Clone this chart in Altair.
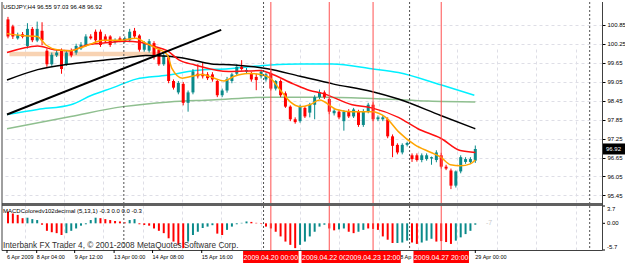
import altair as alt
import pandas as pd

# ---------------- data ----------------
TITLE = "USDJPY,H4 96.55 97.03 96.48 96.92"
MACD_LABEL = "MACDColoredv102decimal (5,13,1) -0.3 0.0 0.0 -0.3"
COPYRIGHT = "Interbank FX Trader 4, \u00a9 2001-2008 MetaQuotes Software Corp."
MACD_TAIL = "-7"

opens = [101.02, 100.80, 100.42, 100.55, 100.18, 100.72, 100.35, 100.66, 100.03, 99.60,
         99.88, 100.03, 99.60, 100.03, 99.97, 100.10, 100.21, 100.48, 100.63, 100.63,
         100.48, 100.48, 100.30, 100.42, 100.33, 100.36, 100.66, 100.51, 100.06, 100.03,
         100.27, 100.06, 99.60, 99.82, 99.07, 98.71, 98.98, 98.38, 98.71, 99.30,
         99.30, 99.28, 99.28, 99.07, 98.62, 98.77, 99.07, 99.30, 99.52, 99.37,
         99.30, 99.20, 99.22, 99.12, 99.31, 98.83, 99.07, 98.68, 98.26, 97.86,
         97.80, 98.22, 98.07, 98.32, 98.56, 98.71, 98.50, 98.05, 98.10, 97.80,
         98.10, 97.95, 98.10, 97.68, 98.10, 98.32, 97.86, 97.86, 97.86, 97.32,
         97.05, 96.81, 97.05, 96.72, 96.72, 96.57, 96.60, 96.62, 96.57, 96.72,
         96.36, 96.24, 95.76, 96.21, 96.51, 96.51, 96.55]
highs = [101.10, 100.85, 100.60, 100.62, 100.90, 100.78, 100.95, 100.93, 100.10, 99.97,
         100.05, 100.10, 100.05, 100.10, 100.25, 100.30, 100.55, 100.55, 100.70, 100.70,
         100.55, 100.52, 100.42, 100.48, 100.48, 100.72, 100.75, 100.55, 100.33, 100.40,
         100.33, 100.10, 99.95, 99.90, 99.12, 99.07, 99.04, 98.77, 99.45, 99.60,
         99.67, 99.35, 99.35, 99.12, 98.83, 99.20, 99.33, 99.60, 99.73, 99.48,
         99.36, 99.30, 99.42, 99.33, 99.40, 99.10, 99.12, 98.74, 98.30, 97.92,
         98.32, 98.28, 98.38, 98.62, 98.80, 98.77, 98.56, 98.18, 98.16, 98.15,
         98.18, 98.22, 98.16, 98.18, 98.38, 98.40, 97.98, 97.98, 97.92, 97.38,
         97.10, 97.10, 97.15, 96.78, 96.78, 96.78, 96.78, 96.68, 96.88, 96.80,
         96.42, 96.30, 96.24, 96.72, 96.66, 96.66, 97.03]
lows = [100.42, 100.40, 100.38, 100.42, 100.10, 100.30, 100.30, 100.20, 99.52, 99.55,
        99.83, 99.30, 99.55, 99.82, 99.90, 100.05, 100.15, 100.38, 100.30, 100.15,
        100.28, 100.15, 100.25, 100.30, 100.28, 100.30, 100.42, 100.00, 100.00, 99.97,
        99.75, 99.55, 99.55, 99.00, 98.80, 98.65, 98.30, 98.10, 98.65, 99.15,
        99.15, 99.10, 99.05, 98.56, 98.56, 98.70, 99.00, 99.25, 99.40, 99.30,
        99.05, 98.78, 99.15, 99.05, 98.77, 98.77, 98.56, 98.22, 97.80, 97.72,
        97.75, 97.90, 97.92, 97.86, 98.50, 98.50, 98.02, 97.98, 97.86, 97.50,
        97.90, 97.90, 97.62, 97.62, 98.05, 97.80, 97.80, 97.80, 97.26, 96.66,
        96.75, 96.75, 97.00, 96.51, 96.52, 96.50, 96.55, 96.42, 96.50, 96.30,
        96.25, 95.65, 95.70, 96.15, 96.45, 96.45, 96.48]
closes = [100.48, 100.48, 100.52, 100.47, 100.72, 100.36, 100.72, 100.36, 99.60, 99.90,
          99.97, 99.45, 99.97, 99.88, 100.18, 100.22, 100.48, 100.42, 100.36, 100.21,
          100.33, 100.21, 100.36, 100.36, 100.42, 100.63, 100.48, 100.06, 100.27, 100.33,
          99.82, 99.60, 99.88, 99.07, 98.86, 99.01, 98.38, 98.71, 99.37, 99.22,
          99.22, 99.16, 99.12, 98.62, 98.77, 99.13, 99.28, 99.52, 99.45, 99.42,
          99.12, 99.10, 99.37, 99.28, 98.83, 99.07, 98.62, 98.26, 97.86, 97.77,
          98.26, 97.95, 98.32, 98.56, 98.71, 98.56, 98.10, 98.13, 97.92, 98.10,
          97.95, 98.17, 97.68, 98.10, 98.32, 97.86, 97.92, 97.92, 97.32, 97.02,
          96.81, 97.05, 97.11, 96.60, 96.57, 96.72, 96.72, 96.66, 96.81, 96.36,
          96.30, 95.76, 96.21, 96.66, 96.60, 96.60, 96.92]

macd_hist = [2.5, 2.1, 1.8, 1.1, 1.2, 0.9, 0.7, -0.3, -1.6, -1.9,
             -2.1, -2.5, -2.1, -1.6, -1.1, -0.5, -0.2, 0.7, 1.2, 1.1,
             0.9, 0.7, 0.5, 0.4, 0.2, 0.7, 0.9, -0.2, -0.35, -0.5,
             -1.1, -1.6, -2.1, -3.2, -3.9, -4.6, -5.3, -3.9, -2.5, -1.8,
             -1.0, -0.7, -0.4, -2.2, -2.5, -1.4, -0.7, -0.2, 0.1, 0.4,
             0.3, 0.1, -0.1, -0.7, -1.1, -1.8, -2.8, -3.9, -4.6, -5.3,
             -4.6, -3.9, -2.8, -1.8, -0.7, -0.3, -1.1, -1.5, -1.3, -1.1,
             -1.8, -2.1, -1.8, -1.4, -1.1, -1.2, -1.4, -2.8, -3.5, -4.2,
             -4.2, -4.1, -3.7, -4.1, -4.4, -4.1, -3.7, -3.3, -3.9, -3.8,
             -4.0, -4.4, -3.7, -3.0, -2.3, -1.6, -0.3]
macd_dir = list("RRRRGGGRRRRRGGGGGGGRRRRRRGGRRRRRRRRRRGGGGGGRRGGGGGRRRRRRRRRRGGGGGGRRGGRRGGRRRRRRGGGRRGGGRRRRGGGGG")

# moving averages (bar index, price)
orange_x = [-0.2, 2.8, 6.0, 7.8, 10.1, 12.9, 14.9, 17.5, 19.5, 23.0, 26.3, 28.3, 30.3, 32.7, 33.7,
            35.8, 37.8, 39.8, 42.4, 44.4, 46.5, 49.3, 51.9, 53.9, 56.0, 58.0, 60.0, 62.0, 64.0,
            67.5, 70.7, 74.7, 77.6, 80.2, 83.6, 86.9, 88.9, 90.9, 92.9, 95.0, 96.0]
orange_y = [100.57, 100.51, 100.48, 100.21, 100.06, 100.03, 100.12, 100.27, 100.36, 100.36, 100.42,
            100.27, 100.12, 99.91, 99.46, 99.16, 99.22, 99.28, 99.16, 99.07, 99.22, 99.31, 99.28,
            99.16, 98.77, 98.41, 98.26, 98.32, 98.47, 98.17, 98.10, 98.10, 97.92, 97.47, 97.05,
            96.81, 96.66, 96.42, 96.39, 96.45, 96.57]
red_x = [-0.2, 6.1, 9.5, 12.9, 16.2, 19.6, 24.2, 27.1, 29.7, 32.7, 35.2, 38.4, 45.3, 51.9, 53.9,
         58.6, 62.0, 64.6, 70.7, 74.7, 80.2, 84.2, 88.9, 92.9, 96.0]
red_y = [99.97, 100.18, 100.06, 100.03, 100.21, 100.27, 100.33, 100.30, 100.18, 100.03, 99.73,
         99.58, 99.37, 99.40, 99.31, 98.98, 98.77, 98.68, 98.32, 98.22, 97.92, 97.56, 97.26,
         96.87, 96.81]
black_x = [-0.2, 6.1, 12.9, 19.6, 23.6, 28.3, 33.1, 37.2, 41.8, 46.5, 53.3, 60.0, 66.7, 74.7,
           80.2, 88.9, 96.0]
black_y = [99.10, 99.43, 99.61, 99.73, 99.79, 99.88, 99.85, 99.76, 99.61, 99.58, 99.46, 99.22,
           98.98, 98.74, 98.50, 97.98, 97.56]
cyan_x = [-0.2, 6.1, 12.9, 17.2, 21.6, 26.3, 32.7, 38.4, 45.3, 53.9, 60.0, 66.7, 74.7, 80.2,
          88.9, 95.8]
cyan_y = [98.01, 98.17, 98.32, 98.62, 98.86, 99.13, 99.25, 99.40, 99.46, 99.58, 99.61, 99.61,
          99.46, 99.34, 98.95, 98.62]
green_x = [-0.2, 12.9, 23.6, 33.1, 41.8, 53.9, 65.1, 77.6, 86.3, 96.0]
green_y = [97.56, 97.95, 98.26, 98.41, 98.47, 98.56, 98.56, 98.50, 98.44, 98.41]
trend_x = [-0.2, 43.8]
trend_y = [98.01, 100.69]
band_x = [0.3, 31.0]
band_y = [99.85, 100.00]

red_line_idx = [54, 66, 75, 89]
red_line_lbl = ["2009.04.20 00:00", "2009.04.22 00:00", "2009.04.23 12:00", "2009.04.27 20:00"]
sep_idx = [23.8, 52.5, 82.5, 119.5]
grid_idx = [3.4, 11.5, 19.6, 27.7, 35.8, 43.8, 51.9, 60.0, 68.1, 76.2, 84.2, 92.3, 100.4, 108.5, 116.6]
time_lbl = ["6 Apr 2009", "8 Apr 04:00", "9 Apr 12:00", "13 Apr 00:00", "14 Apr 08:00",
            "15 Apr 16:00", "29 Apr 00:00"]
time_idx = [-0.2, 5.9, 13.7, 21.8, 29.7, 39.8, 96.0]
hidden_lbl = ["8 Ap"]
hidden_idx = [80.6]
price_ticks = [100.85, 100.25, 99.65, 99.05, 98.45, 97.85, 97.25, 96.65, 96.05, 95.45]
last_price = [96.92]
macd_ticks = [3.7, 0.0, -5.7]
macd_tick_lbl = ["3.7", "0.00", "-5.7"]

# ---------------- layout ----------------
W, H = 600, 248
FONT = "Liberation Sans"
TEAL, RED = "#0b8a8a", "#ff0000"

xs = alt.Scale(domain=[-0.2, 121.0], nice=False, zero=False)
ps = alt.Scale(domain=[95.369, 101.412], range=[201, 0], nice=False, zero=False)
ms = alt.Scale(domain=[-5.7, 3.7], range=[248, 204], nice=False, zero=False)
xaxis = alt.Axis(values=grid_idx, labels=False, ticks=False, domain=False, grid=True,
                 gridColor="#dedee6", gridDash=[3, 3], title=None)
paxis = alt.Axis(orient="right", values=price_ticks, format=".2f", labelFontSize=6,
                 labelFont=FONT, labelColor="#000", tickSize=3, tickColor="#000",
                 labelPadding=2, domain=False, grid=True, gridColor="#dedee6",
                 gridDash=[3, 3], title=None)


def X(f):
    return alt.X(f, type="quantitative", scale=xs, axis=xaxis)


def PY(f):
    return alt.Y(f, type="quantitative", scale=ps, axis=paxis)


candles = pd.DataFrame({"i": range(len(opens)), "o": opens, "h": highs, "l": lows, "c": closes})
candles["d"] = ["up" if c >= o else "down" for o, c in zip(opens, closes)]
ccol = alt.Color("d:N", scale=alt.Scale(domain=["up", "down"], range=[TEAL, RED]), legend=None)

band = alt.Chart(pd.DataFrame({"x0": [band_x[0]], "x1": [band_x[1]], "y0": [band_y[0]], "y1": [band_y[1]]})
                 ).mark_rect(color="#f8d3b3").encode(x=X("x0"), x2="x1", y=PY("y0"), y2="y1")

wick = alt.Chart(candles).mark_rule(strokeWidth=1).encode(x=X("i"), y=PY("l"), y2="h", color=ccol)
body = alt.Chart(candles).mark_bar(size=3).encode(x=X("i"), y=PY("o"), y2="c", color=ccol)


def line(xv, yv, color, w):
    df = pd.DataFrame({"x": xv, "y": yv, "k": range(len(xv))})
    return alt.Chart(df).mark_line(color=color, strokeWidth=w, interpolate="monotone").encode(
        x=X("x"), y=PY("y"), order="k:Q")


green_l = line(green_x, green_y, "#8fbf8f", 1.5)
cyan_l = line(cyan_x, cyan_y, "#00f0ff", 1.5)
black_l = line(black_x, black_y, "#000000", 1.5)
red_l = line(red_x, red_y, "#ff1010", 1.5)
orange_l = line(orange_x, orange_y, "#ffa500", 1.5)
trend_l = alt.Chart(pd.DataFrame({"x": trend_x, "y": trend_y})).mark_line(
    color="#000000", strokeWidth=2).encode(x=X("x"), y=PY("y"))

lp = pd.DataFrame({"p": last_price, "t": [f"{v:.2f}" for v in last_price]})
lp_box = alt.Chart(lp).mark_bar(color="#000000", size=11, orient="horizontal").encode(
    y=PY("p"), x=alt.value(601), x2=alt.value(623))
lp_txt = alt.Chart(lp).mark_text(color="#ffffff", fontSize=6, font=FONT, align="left",
                                 baseline="middle").encode(
    y=PY("p"), x=alt.value(604), text="t:N")

title_t = alt.Chart(pd.DataFrame({"t": [TITLE]})).mark_text(
    fontSize=6, font=FONT, align="left", baseline="middle", color="#000").encode(
    x=alt.value(1), y=alt.value(5), text="t:N")

price = alt.layer(band, green_l, cyan_l, wick, body, black_l, red_l, orange_l, trend_l,
                  lp_box, lp_txt, title_t)

# MACD panel
mdf = pd.DataFrame({"i": range(len(macd_hist)), "v": macd_hist, "z": 0.0, "d": macd_dir})
hist = alt.Chart(mdf).mark_rule(strokeWidth=2).encode(
    x=X("i"), y=alt.Y("z:Q", scale=ms, axis=None), y2="v",
    color=alt.Color("d:N", scale=alt.Scale(domain=["G", "R"], range=["#00ff00", "#ff0000"]), legend=None))
mlabels = []
for v, t, b in zip(macd_ticks, macd_tick_lbl, ["top", "middle", "bottom"]):
    d = pd.DataFrame({"v": [v], "t": [t]})
    mlabels.append(alt.Chart(d).mark_text(fontSize=6, font=FONT, align="left", baseline=b,
                                          color="#000").encode(
        x=alt.value(605), y=alt.Y("v:Q", scale=ms, axis=None), text="t:N"))
    mlabels.append(alt.Chart(d).mark_rule(color="#000").encode(
        x=alt.value(600), x2=alt.value(603), y=alt.Y("v:Q", scale=ms, axis=None)))
tail = alt.Chart(pd.DataFrame({"i": [98.2], "v": [0.0], "t": [MACD_TAIL]})).mark_text(
    fontSize=7, font=FONT, align="left", baseline="middle", color="#c8c8c8").encode(
    x=X("i"), y=alt.Y("v:Q", scale=ms, axis=None), text="t:N")
mtitle = alt.Chart(pd.DataFrame({"t": [MACD_LABEL]})).mark_text(
    fontSize=6, font=FONT, align="left", baseline="middle", color="#000").encode(
    x=alt.value(1), y=alt.value(208.5), text="t:N")
copy_t = alt.Chart(pd.DataFrame({"t": [COPYRIGHT]})).mark_text(
    fontSize=8.2, font=FONT, align="left", baseline="middle", color="#303030").encode(
    x=alt.value(1), y=alt.value(244), text="t:N")

macd = alt.layer(hist, mtitle, copy_t, tail, *mlabels)

# frame, separators, vertical lines and time labels
one = pd.DataFrame({"a": [0]})
frame = [
    alt.Chart(one).mark_rule(color="#606060", strokeWidth=3).encode(
        x=alt.value(0), x2=alt.value(600), y=alt.value(202.5)),
    alt.Chart(one).mark_rule(color="#404040", strokeWidth=1).encode(
        x=alt.value(0), x2=alt.value(600), y=alt.value(248.5)),
    alt.Chart(one).mark_rule(color="#404040", strokeWidth=1).encode(
        x=alt.value(0), y=alt.value(0), y2=alt.value(248.5)),
    alt.Chart(one).mark_rule(color="#404040", strokeWidth=1).encode(
        x=alt.value(600.5), y=alt.value(0), y2=alt.value(248.5)),
]
seps = alt.Chart(pd.DataFrame({"i": sep_idx})).mark_rule(
    color="#505050", strokeDash=[2, 2], strokeWidth=1).encode(
    x=X("i"), y=alt.value(0), y2=alt.value(248))
rlines = alt.Chart(pd.DataFrame({"i": red_line_idx})).mark_rule(
    color="#ff5050", strokeWidth=1).encode(x=X("i"), y=alt.value(0), y2=alt.value(248))

tdf = pd.DataFrame({"i": time_idx, "t": time_lbl})
tlabels = alt.Chart(tdf).mark_text(fontSize=5.5, font=FONT, align="left", baseline="middle",
                                   color="#000").encode(x=X("i"), y=alt.value(255), text="t:N")
tticks = alt.Chart(tdf).mark_rule(color="#000").encode(x=X("i"), y=alt.value(248), y2=alt.value(251))
hdf = pd.DataFrame({"i": hidden_idx, "t": hidden_lbl})
hlabels = alt.Chart(hdf).mark_text(fontSize=5.5, font=FONT, align="left", baseline="middle",
                                   color="#000").encode(x=X("i"), y=alt.value(255), text="t:N")

boxes = []
for idx, lbl in zip(red_line_idx, red_line_lbl):
    d = pd.DataFrame({"lo": [idx - 5.7], "hi": [idx + 5.7], "i": [idx], "t": [lbl]})
    boxes.append(alt.Chart(d).mark_rect(color="#ff0000").encode(
        x=X("lo"), x2="hi", y=alt.value(249), y2=alt.value(261)))
    boxes.append(alt.Chart(d).mark_text(color="#ffffff", fontSize=7, font=FONT, align="center",
                                        baseline="middle").encode(x=X("i"), y=alt.value(255.5), text="t:N"))

chart = alt.layer(price, macd, seps, rlines, *frame, tlabels, tticks, hlabels, *boxes).resolve_scale(
    y="independent").properties(
    width=W, height=H, padding={"left": 2, "top": 2, "right": 23, "bottom": 14},
    autosize=alt.AutoSizeParams(type="none"), background="#ffffff"
).configure_view(stroke=None)

chart.save("out.html", embed_options={"renderer": "svg", "actions": False})
